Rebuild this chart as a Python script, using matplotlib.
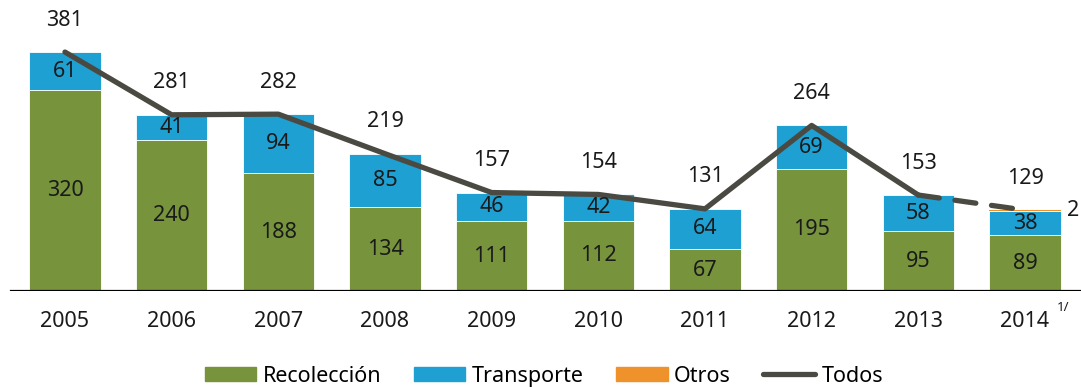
import numpy as np
import matplotlib.pyplot as plt
from matplotlib.lines import Line2D
from matplotlib.patches import Patch

plt.rcParams['font.family'] = ['Noto Sans', 'DejaVu Sans']

years = ['2005', '2006', '2007', '2008', '2009', '2010', '2011', '2012', '2013', '2014']
recoleccion = [320, 240, 188, 134, 111, 112, 67, 195, 95, 89]
transporte = [61, 41, 94, 85, 46, 42, 64, 69, 58, 38]
otros = [0, 0, 0, 0, 0, 0, 0, 0, 0, 2]
todos = [381, 281, 282, 219, 157, 154, 131, 264, 153, 129]

c_rec = '#77933c'
c_tra = '#1fa0d2'
c_otr = '#f0922b'
c_tod = '#4a4a42'
txt = '#1a1a1a'

x = np.arange(len(years))
rec = np.array(recoleccion)
tra = np.array(transporte)
otr = np.array(otros)

fig = plt.figure(figsize=(10.81, 3.87), dpi=100)
ax = fig.add_axes([0, 0.248, 1, 0.752])

w = 0.67
ax.bar(x, rec, w, color=c_rec, edgecolor='white', linewidth=0.6)
ax.bar(x, tra, w, bottom=rec, color=c_tra, edgecolor='white', linewidth=0.6)
ax.bar(x, otr, w, bottom=rec + tra, color=c_otr, linewidth=0)

# totals line: solid up to 2013, dashed for the last year
ax.plot(x[:-1], todos[:-1], color=c_tod, lw=3.8, solid_capstyle='round', zorder=3)
ax.plot(x[-2:], todos[-2:], color=c_tod, lw=3.8, ls=(0, (4, 3)),
        dash_capstyle='round', zorder=3)

fs = 15.5
for i in range(len(years)):
    ax.text(x[i], rec[i] / 2, str(rec[i]), ha='center', va='center', fontsize=fs, color=txt)
    ax.text(x[i], rec[i] + tra[i] / 2, str(tra[i]), ha='center', va='center', fontsize=fs, color=txt)
    ax.annotate(str(todos[i]), (x[i], rec[i] + tra[i] + otr[i]), xytext=(0, 23),
                textcoords='offset points', ha='center', va='center', fontsize=fs, color=txt)
    ax.annotate(years[i], (x[i], 0), xytext=(0, -22), textcoords='offset points',
                ha='center', va='center', fontsize=fs, color=txt)
ax.text(x[-1] + w / 2 + 0.06, rec[-1] + tra[-1] + otr[-1], str(otr[-1]),
        ha='left', va='center', fontsize=fs, color=txt)
ax.annotate('1/', (x[-1] + 0.3, 0), xytext=(0, -12), textcoords='offset points',
            ha='left', va='center', fontsize=9.5, color=txt)

ax.set_xlim(-0.609, 9.525)
ax.set_ylim(0, 464)
ax.axhline(0, color='black', lw=1.6, xmin=0.01, xmax=1)
for s in ax.spines.values():
    s.set_visible(False)
ax.set_xticks([])
ax.set_yticks([])

handles = [Patch(color=c_rec), Patch(color=c_tra), Patch(color=c_otr),
           Line2D([], [], color=c_tod, lw=3.8, solid_capstyle='round')]
fig.legend(handles, ['Recolección', 'Transporte', 'Otros', 'Todos'],
           loc='center', bbox_to_anchor=(0.503, 0.028), ncol=4, frameon=False,
           fontsize=fs, handlelength=2.4, handleheight=0.65, handletextpad=0.3,
           columnspacing=1.5, borderaxespad=0)

fig.savefig('out.png', dpi=100)
